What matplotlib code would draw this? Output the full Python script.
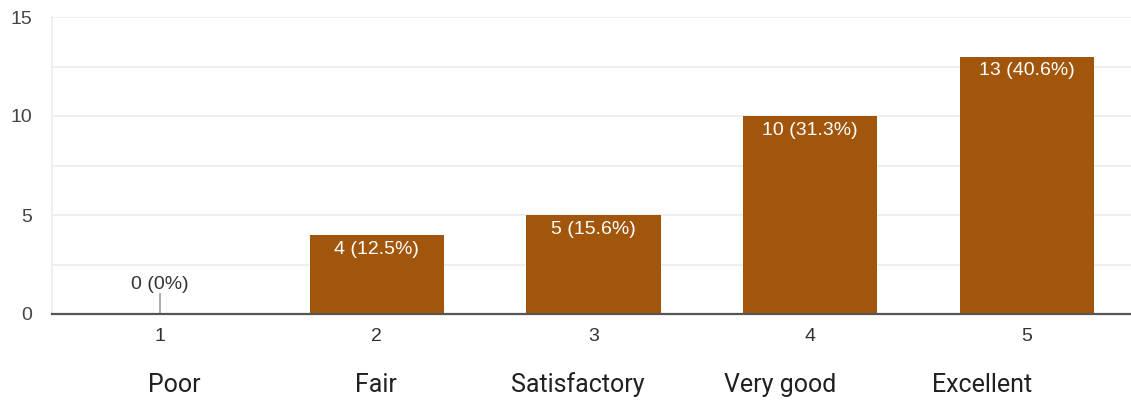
import matplotlib
matplotlib.use("Agg")
import matplotlib.pyplot as plt

plt.rcParams['font.family'] = ['Liberation Sans', 'DejaVu Sans']

# Survey ratings
ratings = [1, 2, 3, 4, 5]
names = ["Poor", "Fair", "Satisfactory", "Very good", "Excellent"]
counts = [0, 4, 5, 10, 13]
percents = ["0%", "12.5%", "15.6%", "31.3%", "40.6%"]
y_ticks = [0, 5, 10, 15]

W, H = 1131, 400
fig = plt.figure(figsize=(W / 100, H / 100), dpi=100)
ax = fig.add_axes([52 / W, 86 / H, 1083 / W, 297 / H])

bar_color = "#a1560c"
ax.bar(ratings, counts, width=0.62, color=bar_color, zorder=3)

ax.set_xlim(0.5, 5.5)
ax.set_ylim(0, 15)

# gridlines (major and half-step)
for v in [2.5, 5, 7.5, 10, 12.5, 15]:
    ax.axhline(v, color="#ececec", lw=1.2, zorder=1)

for s in ["top", "right"]:
    ax.spines[s].set_visible(False)
ax.spines["left"].set_color("#ececec")
ax.spines["left"].set_linewidth(1.2)
ax.spines["bottom"].set_color("#555555")
ax.spines["bottom"].set_linewidth(1.6)
ax.spines["bottom"].set_zorder(4)

ax.set_yticks(y_ticks)
ax.set_yticklabels([str(v) for v in y_ticks], fontsize=14, color="#444444")
ax.tick_params(axis="y", length=0, pad=14)
ax.set_xticks(ratings)
ax.set_xticklabels([str(r) for r in ratings], fontsize=14, color="#333333")
ax.tick_params(axis="x", length=0, pad=10)

# row of category names under the numeric ticks
for i, n in enumerate(names):
    fig.text((174 + i * 202) / W, 15 / H, n, ha="center", va="center",
             fontsize=18, color="#202124", family=["Roboto", "DejaVu Sans"])

# value labels
for r, c, p in zip(ratings, counts, percents):
    label = f"{c} ({p})"
    if c == 0:
        ax.plot([r, r], [0, 1.0], color="#9e9e9e", lw=1.2, zorder=3)
        ax.text(r, 1.48, label, ha="center", va="center", fontsize=14,
                color="#333333", zorder=5)
    else:
        ax.text(r, c - 0.72, label, ha="center", va="center", fontsize=14,
                color="white", zorder=5)

fig.savefig("out.png", dpi=100)
